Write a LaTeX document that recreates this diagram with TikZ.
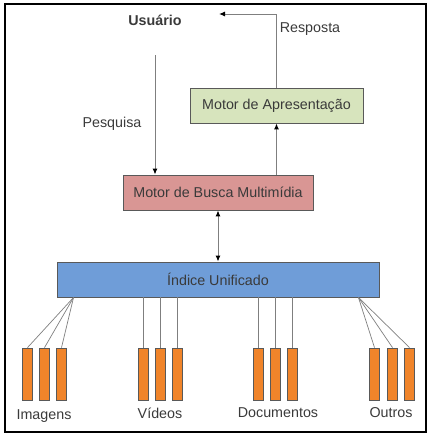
\documentclass[tikz,border=0pt]{standalone}
\usepackage{fontspec}
\setmainfont{Liberation Sans}
\usetikzlibrary{arrows.meta,calc}
\definecolor{txt}{HTML}{3A3A3A}
\definecolor{boxline}{HTML}{595959}
\definecolor{lnk}{HTML}{7F7F7F}
\definecolor{gfill}{HTML}{D7E4BD}
\definecolor{rfill}{HTML}{D99694}
\definecolor{bfill}{HTML}{6F9DD8}
\definecolor{ofill}{HTML}{F0842A}
\begin{document}
\begin{tikzpicture}[x=1pt,y=-1pt,
  font=\fontsize{14.3}{17}\selectfont,
  box/.style={draw=boxline,line width=0.9pt,text=txt,inner sep=0pt,anchor=center},
  bar/.style={draw=boxline,line width=0.8pt,fill=ofill,minimum width=10pt,minimum height=52pt,inner sep=0pt},
  lbl/.style={text=txt,inner sep=0pt},
  flow/.style={draw=lnk,line width=1pt,-{Latex[length=6pt,width=5pt,black]}},
  link/.style={draw=lnk,line width=0.7pt}]
\useasboundingbox (0,0) rectangle (432,437);
\draw[line width=1.4pt] (5,4) rectangle (426,432);
% boxes
\node[box,fill=gfill,minimum width=173pt,minimum height=35pt] (apr) at (276.5,105.5) {Motor de Apresentação};
\node[box,fill=rfill,minimum width=190pt,minimum height=35pt] (busca) at (218,192.5) {Motor de Busca Multimídia};
\node[box,fill=bfill,minimum width=322pt,minimum height=35pt] (idx) at (218,279.5) {Índice Unificado};
% labels
\node[lbl,font=\fontsize{14.3}{17}\selectfont\bfseries] (usr) at (155,20) {Usuário};
\node[lbl] (resp) at (310,29) {Resposta};
\node[lbl] (pesq) at (112,124) {Pesquisa};
% flows
\coordinate (pstart) at (155,55);
\draw[flow] (pstart) -- (pstart |- busca.north);
\coordinate (rend) at (219,14);
\draw[flow] (apr.north) |- (rend);
\draw[flow] (busca.north -| apr.north) -- (apr.south);
\draw[draw=lnk,line width=1pt,{Latex[length=6pt,width=5pt,black]}-{Latex[length=6pt,width=5pt,black]}] (busca.south) -- (idx.north);
% bars
\foreach \n/\x in {i1/27.5,i2/44.5,i3/61.5,v1/143.5,v2/160.5,v3/177.5,d1/258.5,d2/275.5,d3/292.5,o1/374.5,o2/392.5,o3/409.5}{
  \node[bar] (\n) at (\x,374) {};
}
\coordinate (ia) at ($(idx.south west)+(17,0)$);
\coordinate (oa) at ($(idx.south east)+(-21,0)$);
\foreach \n in {i1,i2,i3}{\draw[link] (ia) -- (\n.north);}
\foreach \n in {o1,o2,o3}{\draw[link] (oa) -- (\n.north);}
\foreach \n in {v1,v2,v3,d1,d2,d3}{\draw[link] (\n.north |- idx.south) -- (\n.north);}
% group labels
\node[lbl] (limg) at (44,416) {Imagens};
\node[lbl] (lvid) at (160,413) {Vídeos};
\node[lbl] (ldoc) at (278,413) {Documentos};
\node[lbl] (lout) at (391,413) {Outros};
\end{tikzpicture}
\end{document}
